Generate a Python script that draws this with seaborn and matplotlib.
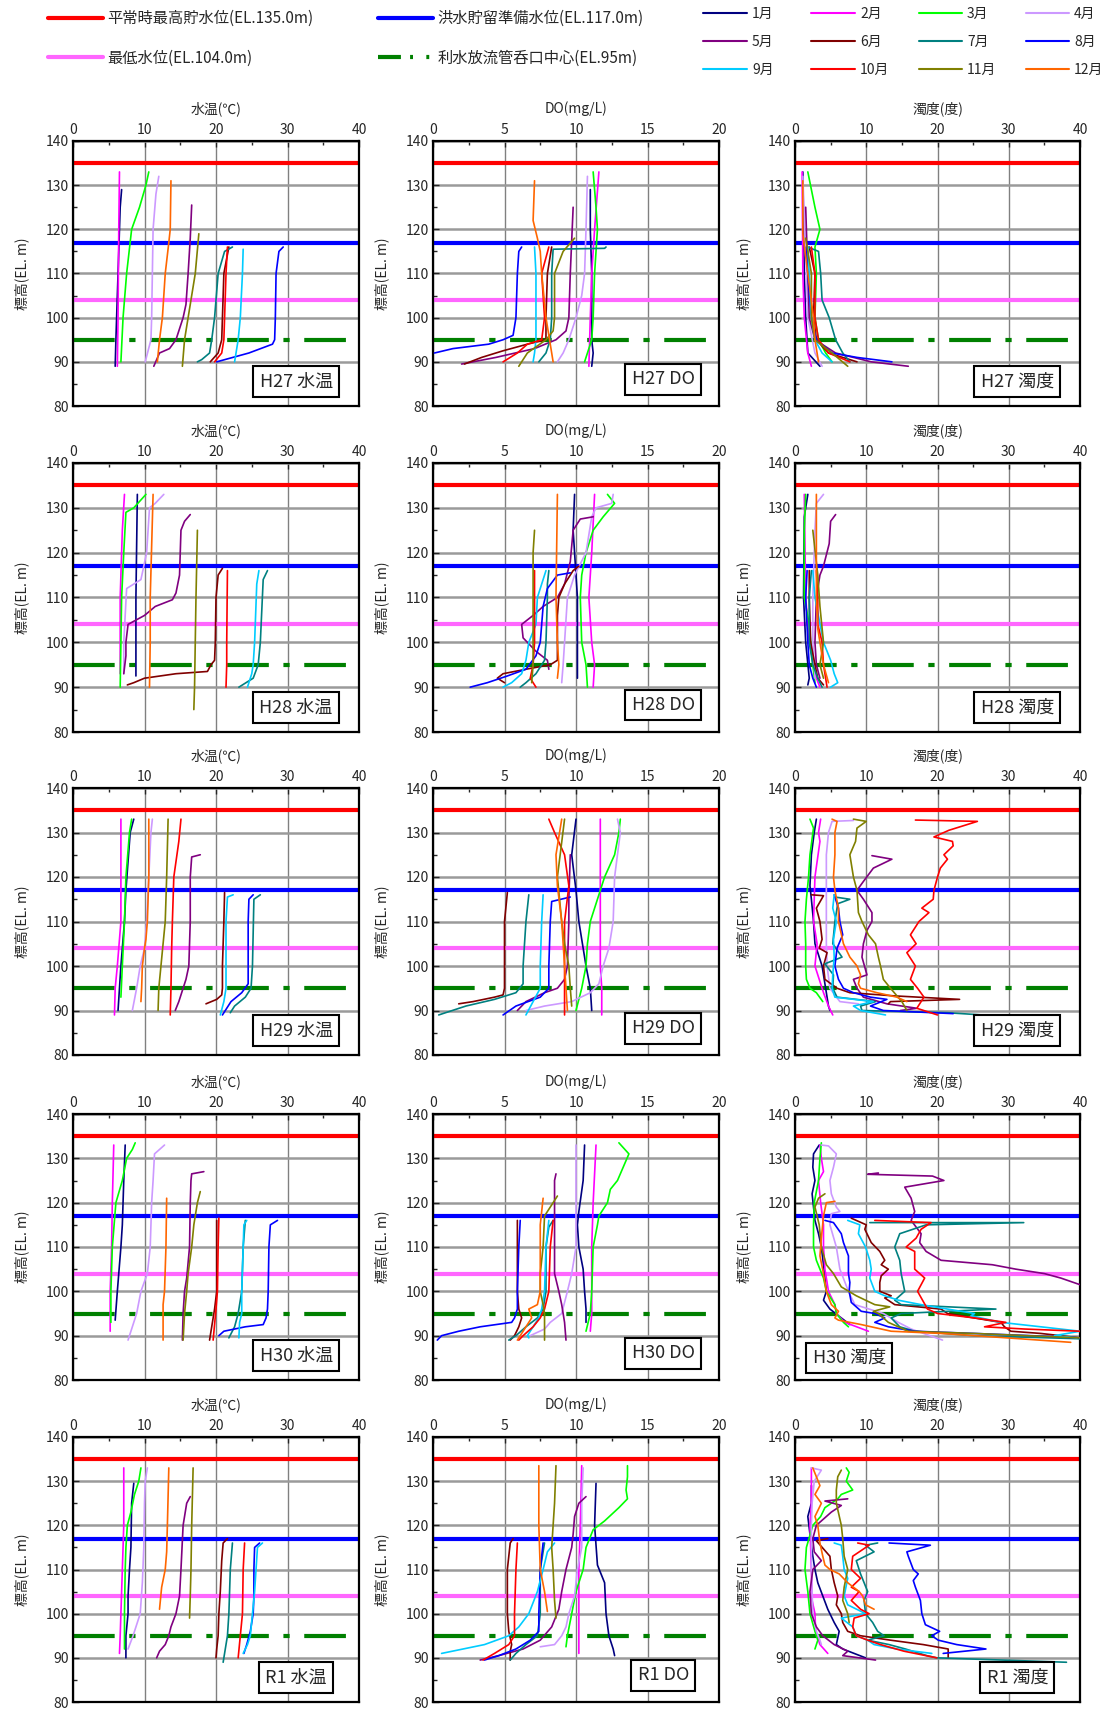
import matplotlib
matplotlib.use("Agg")
import matplotlib.pyplot as plt
import seaborn as sns
import pandas as pd
from matplotlib.lines import Line2D
from matplotlib.ticker import MultipleLocator

MONTHS = ["1月", "2月", "3月", "4月", "5月", "6月", "7月", "8月", "9月", "10月", "11月", "12月"]
MONTH_COLORS = ["#000080", "#FF00FF", "#00FF00", "#CC99FF", "#800080", "#800000",
                "#008080", "#0000FF", "#00CCFF", "#FF0000", "#808000", "#FF6600"]

REF_LEVELS = [135.0, 117.0, 104.0, 95.0]
REF_LABELS = ["平常時最高貯水位(EL.135.0m)", "洪水貯留準備水位(EL.117.0m)",
              "最低水位(EL.104.0m)", "利水放流管呑口中心(EL.95m)"]
REF_COLORS = ["#FF0000", "#0000FF", "#FF66FF", "#008000"]

YEARS = ["H27", "H28", "H29", "H30", "R1"]
VARIABLES = ["水温", "DO", "濁度"]
X_LABELS = ["水温(℃)", "DO(mg/L)", "濁度(度)"]
X_MAX = [40, 20, 40]
X_STEP = [10, 5, 10]

# each profile: (value, elevation EL.m), months 1..12
TEMP_H27 = [
    [(6.8, 129), (6.6, 125), (6.3, 110), (6.0, 95), (5.9, 89)],
    [(6.5, 133), (6.4, 120), (6.3, 100), (6.2, 89)],
    [(10.6, 133), (10.2, 130), (9.3, 125), (8.2, 120), (7.5, 110), (7.0, 100), (6.7, 90)],
    [(12.0, 132), (11.6, 128), (11.2, 120), (11.0, 100), (10.9, 95), (10.1, 90)],
    [(16.6, 125.5), (16.4, 118), (16.1, 110), (15.8, 103), (15.4, 100), (14.4, 95), (13.5, 93), (12.1, 92), (11.3, 89)],
    [(21.8, 116), (21.1, 110), (20.9, 100), (20.8, 95), (20.3, 92), (19.2, 90)],
    [(22.3, 116), (21.2, 115), (20.3, 110), (19.8, 100), (19.4, 95), (19.1, 92), (18.0, 90.5), (17.4, 90)],
    [(29.4, 116), (28.8, 115), (28.4, 110), (28.3, 100), (28.2, 95), (27.9, 94), (24.6, 92), (20.1, 90)],
    [(23.8, 115.5), (23.7, 110), (23.4, 100), (23.1, 95), (22.6, 90)],
    [(21.6, 116), (21.4, 110), (21.2, 100), (21.1, 95), (20.8, 92), (19.8, 90)],
    [(17.6, 119), (17.1, 110), (16.1, 100), (15.6, 95), (15.3, 89)],
    [(13.7, 131), (13.6, 120), (13.4, 117), (12.9, 110), (12.5, 100), (12.1, 95), (11.8, 90)],
]
DO_H27 = [
    [(11.0, 129), (11.0, 120), (11.1, 110), (11.1, 100), (11.1, 95), (11.2, 92), (11.1, 89)],
    [(11.6, 133), (11.3, 120), (11.1, 110), (11.0, 100), (10.9, 89)],
    [(11.2, 133), (11.4, 125), (11.5, 120), (11.3, 110), (11.2, 100), (11.1, 95), (10.6, 90)],
    [(10.8, 132), (10.7, 120), (10.6, 110), (10.4, 105), (10.0, 100), (9.5, 95), (9.1, 92), (8.7, 90)],
    [(9.8, 125), (9.6, 110), (9.5, 100), (9.3, 97), (8.6, 95), (7.1, 93), (4.4, 91), (2.0, 89.5)],
    [(8.3, 116), (8.0, 110), (7.9, 100), (7.9, 95), (6.6, 94), (4.9, 92.5), (3.4, 91), (2.2, 89.5)],
    [(12.1, 116), (12.0, 115.7), (8.4, 115.5), (8.3, 110), (8.3, 100), (8.2, 95), (7.9, 92), (7.4, 90)],
    [(6.2, 116), (6.0, 115), (5.9, 110), (5.8, 100), (5.6, 96), (4.9, 95), (3.9, 94), (1.4, 93), (0.1, 92)],
    [(7.1, 116), (7.2, 110), (7.2, 100), (7.2, 95), (7.1, 92), (7.0, 90)],
    [(8.1, 116), (7.6, 110), (7.8, 100), (7.6, 95), (6.6, 94), (5.9, 92), (4.9, 90)],
    [(9.9, 118), (9.1, 115), (8.5, 110), (8.5, 100), (8.4, 97), (7.9, 95), (6.6, 92), (6.0, 89)],
    [(7.1, 131), (7.0, 122), (7.3, 118), (7.5, 115), (7.6, 110), (7.9, 100), (8.1, 96), (8.4, 90)],
]
TURB_H27 = [
    [(1.1, 133), (1.3, 110), (1.5, 100), (1.8, 92), (3.5, 89)],
    [(1.0, 133), (1.1, 110), (1.3, 100), (1.8, 92), (2.3, 89)],
    [(1.8, 133), (2.8, 125), (3.5, 120), (2.8, 116), (3.0, 110), (2.8, 100), (3.3, 95), (4.3, 92), (5.2, 90)],
    [(1.1, 132), (1.6, 110), (1.8, 100), (2.8, 92), (3.8, 89)],
    [(1.5, 125), (1.8, 110), (2.0, 100), (2.8, 95), (5.7, 92), (10.7, 90), (15.9, 89)],
    [(2.0, 116), (2.8, 110), (2.6, 100), (3.0, 95), (4.7, 92), (8.7, 90)],
    [(1.8, 116), (3.3, 115), (3.6, 110), (3.8, 104), (4.8, 100), (5.7, 95), (6.7, 92), (7.7, 90)],
    [(1.6, 116), (1.8, 110), (2.3, 100), (3.0, 95), (5.2, 92), (8.7, 91), (13.6, 90)],
    [(1.8, 116), (2.0, 110), (2.3, 100), (2.8, 95), (3.8, 92), (5.2, 90)],
    [(2.3, 116), (2.8, 110), (2.8, 100), (3.3, 95), (4.7, 92), (7.7, 90)],
    [(1.5, 118), (2.3, 110), (2.3, 100), (2.8, 95), (5.2, 92), (7.4, 89)],
    [(1.1, 131), (1.1, 119), (1.8, 110), (2.6, 100), (2.8, 95), (3.3, 90)],
]

TEMP_H28 = [
    [(9.0, 133), (8.8, 110), (8.8, 100), (8.8, 92.5)],
    [(7.2, 133), (6.9, 125), (6.6, 110), (6.6, 93)],
    [(10.2, 133), (8.5, 130), (7.4, 129), (7.1, 120), (6.8, 110), (6.7, 100), (6.6, 90)],
    [(12.7, 133), (11.5, 131), (10.7, 130), (10.3, 120), (9.5, 114), (7.5, 112), (7.3, 106), (7.1, 100), (7.1, 93)],
    [(16.4, 128.5), (15.6, 127), (15.1, 125), (14.9, 115), (14.4, 111), (13.9, 109.5), (11.5, 108), (10.0, 106),
     (7.7, 104), (7.4, 100), (7.4, 97), (7.1, 93)],
    [(20.9, 116.5), (20.3, 115), (20.0, 110), (19.9, 100), (19.8, 96), (19.3, 95), (18.8, 93.5), (14.4, 93),
     (10.0, 92), (8.5, 91), (7.6, 90.5)],
    [(27.2, 116), (26.6, 114), (26.2, 100), (25.9, 95), (25.2, 92), (23.2, 90)],
    [],
    [(26.0, 116), (25.7, 113), (25.4, 100), (25.2, 95), (25.0, 93), (24.4, 90)],
    [(21.6, 116), (21.5, 100), (21.5, 95), (21.4, 90)],
    [(17.4, 125), (17.2, 110), (17.1, 100), (17.0, 90), (16.9, 85)],
    [(11.2, 133), (10.8, 110), (10.8, 100), (10.7, 90)],
]
DO_H28 = [
    [(9.9, 133), (9.8, 125), (10.0, 115), (10.1, 110), (10.1, 100), (10.1, 92)],
    [(11.3, 133), (11.1, 120), (10.9, 110), (11.1, 100), (11.3, 95), (11.2, 90)],
    [(12.2, 133), (12.7, 131), (11.9, 128), (11.2, 125), (10.7, 120), (10.4, 115), (10.3, 110), (10.4, 100),
     (10.7, 95), (10.8, 90)],
    [(12.6, 133), (12.5, 131), (11.4, 130), (11.1, 128), (10.7, 120), (9.9, 115), (9.4, 110), (9.2, 100),
     (9.1, 95), (9.0, 91)],
    [(11.2, 128), (10.3, 127.5), (9.8, 125), (9.6, 118), (9.2, 113), (8.7, 110), (7.7, 108), (7.0, 106),
     (6.2, 104), (6.3, 101), (7.2, 98), (8.0, 96), (8.1, 94)],
    [(10.2, 117), (9.8, 116), (9.2, 113), (8.8, 110), (8.7, 106), (8.7, 100), (8.7, 96), (8.2, 95), (6.5, 94),
     (4.9, 93), (4.5, 92), (5.0, 91)],
    [(8.1, 116), (8.0, 113), (8.0, 110), (7.9, 100), (7.8, 96), (7.2, 93), (6.5, 91), (6.1, 90)],
    [(9.6, 115.5), (8.7, 115), (8.0, 112), (7.7, 108), (7.6, 104), (7.5, 100), (7.2, 97), (6.5, 94),
     (5.2, 92.5), (3.8, 91), (2.6, 90)],
    [(7.9, 116), (7.7, 114), (7.3, 110), (7.2, 104), (6.7, 100), (6.5, 96), (6.2, 93), (5.5, 91), (4.9, 90)],
    [(7.1, 116), (7.1, 110), (7.1, 100), (7.0, 95), (6.8, 92), (7.2, 90)],
    [(7.1, 125), (7.0, 120), (7.0, 110), (7.0, 100), (7.0, 95), (6.9, 91)],
    [(8.7, 133), (8.6, 110), (8.7, 100), (8.8, 95), (8.7, 92)],
]
TURB_H28 = [
    [(1.8, 133), (1.3, 128), (1.2, 110), (1.5, 100), (2.0, 92), (1.8, 90.5)],
    [(1.3, 133), (1.5, 110), (2.0, 100), (3.0, 92), (3.5, 90)],
    [(1.5, 133), (1.3, 125), (1.3, 110), (2.0, 104), (2.2, 100), (2.5, 95), (2.8, 91)],
    [(4.0, 133), (3.0, 131), (2.8, 125), (2.5, 110), (2.5, 100), (2.8, 92)],
    [(5.7, 128.5), (5.0, 127), (4.8, 122), (4.0, 117), (3.5, 115), (3.0, 110), (2.8, 100), (3.0, 95), (3.5, 92)],
    [(2.0, 116), (2.0, 110), (2.2, 100), (2.8, 95), (3.2, 92), (4.0, 90.5)],
    [(2.3, 116), (2.0, 110), (2.0, 100), (2.5, 95), (3.2, 92), (3.8, 90)],
    [(1.7, 116), (1.5, 110), (1.8, 100), (2.0, 95), (2.5, 92), (3.0, 90)],
    [(2.5, 116), (2.8, 110), (4.0, 100), (5.0, 96), (5.5, 93), (6.0, 91), (5.0, 90)],
    [(3.0, 116), (3.2, 110), (3.2, 104), (3.8, 100), (4.0, 95), (4.3, 92), (4.5, 90)],
    [(2.5, 125), (3.2, 115), (3.5, 108), (4.0, 100), (3.5, 95), (4.0, 92)],
    [(3.0, 133), (3.0, 120), (3.0, 110), (3.2, 103), (3.5, 100), (4.0, 95), (4.7, 91)],
]

TEMP_H29 = [
    [(8.5, 133), (8.0, 130), (7.4, 117), (7.2, 110), (6.7, 100), (6.5, 95), (6.3, 90)],
    [(6.7, 133), (6.7, 110), (6.2, 100), (5.9, 95), (5.8, 89)],
    [(8.2, 133), (7.9, 130), (7.4, 120), (7.2, 110), (6.9, 100), (6.7, 93)],
    [(11.1, 133), (10.9, 130), (10.6, 120), (10.3, 110), (10.0, 104), (9.4, 100), (8.9, 95), (8.3, 90)],
    [(17.8, 125), (16.6, 124.5), (16.4, 120), (16.4, 110), (16.2, 100), (15.8, 97), (15.4, 95), (14.8, 92), (14.3, 90)],
    [(21.2, 116.5), (21.1, 110), (20.9, 100), (20.9, 95), (20.8, 93.5), (20.1, 92.5), (18.6, 91.5)],
    [(26.2, 116), (25.3, 115), (25.1, 100), (24.9, 95), (24.1, 93), (22.6, 91), (22.0, 89.5)],
    [(25.2, 116), (24.6, 115), (24.5, 110), (24.5, 100), (24.5, 96), (23.6, 94), (22.1, 92), (20.9, 89)],
    [(22.4, 116), (21.6, 115.5), (21.4, 110), (21.4, 100), (21.4, 95), (21.1, 92), (20.6, 89)],
    [(15.1, 133), (14.8, 128), (14.1, 120), (13.9, 110), (13.8, 104), (13.7, 95), (13.6, 89)],
    [(13.3, 133), (13.1, 120), (12.9, 110), (12.6, 105), (12.3, 100), (12.0, 95), (11.9, 90)],
    [(10.6, 133), (10.6, 120), (10.4, 110), (10.2, 106), (10.0, 104), (9.7, 100), (9.6, 95), (9.5, 92)],
]
DO_H29 = [
    [(10.0, 133), (9.7, 125), (10.0, 117), (10.2, 110), (10.5, 104), (10.7, 100), (11.0, 95), (11.1, 90)],
    [(11.7, 133), (11.7, 110), (11.7, 100), (11.8, 95), (11.8, 89)],
    [(13.1, 133), (13.0, 130), (12.7, 125), (12.0, 120), (11.5, 115), (11.0, 110), (10.8, 105), (10.7, 100),
     (10.4, 95), (10.0, 90)],
    [(12.9, 133), (13.1, 130), (12.7, 120), (12.6, 110), (12.3, 104), (11.9, 100), (11.6, 96), (11.0, 94),
     (9.7, 92), (7.8, 91), (6.5, 90)],
    [(9.6, 125), (9.5, 115), (9.5, 110), (9.4, 100), (9.2, 97), (8.7, 95), (7.8, 94), (6.5, 92), (5.9, 90)],
    [(5.2, 116.5), (5.0, 110), (5.0, 100), (5.0, 95), (4.9, 93.5), (4.3, 93), (2.8, 92), (1.8, 91.5)],
    [(6.7, 116), (6.5, 110), (6.3, 100), (6.3, 96), (5.8, 94), (4.3, 92.5), (2.3, 91), (0.4, 89)],
    [(9.6, 115.5), (8.3, 114.5), (8.2, 110), (8.1, 100), (8.1, 95), (7.5, 93), (5.8, 91), (4.9, 89)],
    [(7.7, 116), (7.6, 110), (7.5, 100), (7.5, 95), (7.0, 92), (6.5, 89)],
    [(8.1, 133), (8.5, 130), (9.2, 125), (9.5, 118), (9.2, 110), (9.2, 100), (9.2, 95), (9.2, 89)],
    [(9.2, 133), (8.7, 120), (9.0, 110), (9.2, 105), (9.5, 100), (9.6, 95), (9.7, 91)],
    [(9.0, 133), (8.6, 125), (8.7, 118), (9.0, 110), (9.2, 100), (9.3, 95), (9.4, 90)],
]
TURB_H29 = [
    [(3.0, 133), (2.7, 130), (2.3, 125), (2.1, 118), (2.3, 115), (2.6, 110), (2.8, 105), (3.8, 100), (4.2, 96),
     (4.5, 93), (4.7, 91), (4.9, 90)],
    [(3.6, 133), (3.3, 130), (3.5, 128), (2.8, 120), (2.6, 110), (3.1, 105), (2.8, 100), (3.4, 97), (4.0, 94),
     (4.7, 91), (5.3, 89)],
    [(2.1, 133), (2.6, 131), (2.1, 125), (1.9, 120), (1.6, 115), (1.4, 110), (1.5, 105), (1.5, 100), (1.6, 97),
     (2.1, 95), (3.0, 94), (3.9, 92)],
    [(8.2, 132.7), (5.2, 132.5), (4.7, 130), (4.4, 125), (4.4, 115), (4.4, 105), (4.5, 100), (4.9, 95), (6.3, 92),
     (8.9, 91.5)],
    [(10.8, 124.8), (13.6, 124), (11.0, 122), (9.6, 119), (8.7, 117), (9.6, 115), (10.8, 112), (10.8, 110),
     (10.1, 108), (9.6, 105), (9.4, 102), (10.1, 98), (8.2, 97), (8.7, 95), (9.6, 93), (12.9, 91.5), (17.1, 90.5),
     (14.8, 90)],
    [(2.3, 116), (4.0, 115.8), (3.0, 113), (3.5, 110), (3.8, 106), (3.4, 104), (4.5, 103), (4.0, 100), (4.2, 97),
     (5.9, 95), (7.7, 94), (13.8, 93.3), (23.1, 92.5), (13.4, 92), (13.1, 91.5)],
    [(5.6, 115.5), (7.7, 115), (6.0, 114), (5.6, 110), (5.3, 105), (6.6, 102), (4.2, 100.5), (5.4, 98), (5.3, 95),
     (5.9, 93), (11.3, 92), (9.2, 91), (9.4, 90), (21.4, 89.5), (26.3, 89)],
    [(5.5, 116), (6.1, 113), (6.3, 110), (6.7, 107), (5.9, 104), (5.6, 100), (6.1, 97), (6.8, 95), (8.2, 94),
     (10.6, 93), (12.9, 92.5), (10.6, 91), (12.4, 90), (22.2, 89.3)],
    [(5.5, 116), (5.3, 113), (5.8, 110), (5.4, 106), (5.5, 102), (5.3, 98), (5.2, 95), (5.6, 93), (11.0, 92),
     (8.2, 91), (9.2, 90), (12.7, 89)],
    [(16.9, 132.8), (25.6, 132.5), (21.6, 130.5), (19.5, 129), (22.1, 128), (22.2, 127), (20.9, 125), (21.4, 124),
     (20.4, 122), (20.0, 120), (19.5, 117), (19.4, 115), (17.8, 113), (18.8, 112), (17.4, 110), (16.2, 107),
     (17.0, 105), (15.7, 103), (16.9, 100), (16.2, 97), (17.2, 95), (18.1, 93), (17.1, 90.5), (20.0, 89)],
    [(8.2, 133), (10.0, 132.5), (8.7, 131), (8.5, 128), (7.7, 125), (8.2, 120), (8.7, 117), (8.9, 112), (9.4, 110),
     (10.3, 107), (11.3, 105), (11.7, 102), (12.0, 100), (12.4, 97), (13.4, 95), (15.0, 92), (15.7, 90)],
    [(5.2, 133), (5.9, 132.5), (5.6, 130), (5.6, 125), (5.4, 120), (5.6, 117), (6.1, 113), (6.1, 110), (6.8, 105),
     (7.7, 102), (8.7, 100), (9.2, 98), (8.9, 96), (9.2, 95), (11.5, 94), (14.3, 93), (15.7, 92)],
]

TEMP_H30 = [
    [(7.3, 133), (7.1, 125), (6.9, 115), (6.7, 110), (6.2, 100), (5.9, 93.5)],
    [(5.7, 133), (5.5, 120), (5.4, 110), (5.2, 100), (5.2, 91)],
    [(8.7, 133.5), (8.3, 132), (7.5, 130), (6.9, 125), (6.0, 120), (5.5, 110), (5.3, 100), (5.3, 93)],
    [(12.8, 133), (11.4, 131), (11.2, 125), (11.0, 120), (10.8, 110), (10.4, 104), (9.5, 100), (8.9, 95), (7.7, 89)],
    [(18.3, 127), (16.6, 126.5), (16.5, 125), (16.4, 120), (16.3, 110), (15.9, 103), (15.6, 100), (15.4, 95), (15.3, 89)],
    [(20.1, 116), (20.1, 100), (19.8, 96), (19.1, 89)],
    [(24.1, 116), (23.8, 110), (23.6, 100), (23.1, 95), (22.6, 92), (21.8, 89.5)],
    [(28.6, 116), (27.6, 115), (27.4, 110), (27.3, 100), (27.2, 96), (27.0, 94), (26.6, 92.5), (24.1, 92),
     (21.1, 91), (20.4, 90)],
    [(24.3, 116), (23.9, 115), (23.8, 110), (23.6, 100), (23.6, 95), (23.3, 93), (23.2, 89.5)],
    [(20.4, 116.5), (20.3, 110), (20.2, 100), (20.0, 96), (19.6, 89)],
    [(17.8, 122.5), (17.4, 120), (16.9, 115), (16.6, 110), (16.1, 104), (15.9, 100), (15.6, 95), (15.4, 89)],
    [(13.1, 121), (13.0, 110), (12.8, 100), (12.6, 97), (12.6, 89)],
]
DO_H30 = [
    [(10.6, 133), (10.5, 125), (10.2, 118), (10.1, 115), (10.2, 110), (10.5, 105), (10.6, 100), (10.7, 96), (10.7, 93)],
    [(11.4, 133), (11.2, 120), (11.1, 110), (11.1, 100), (11.1, 95), (11.0, 91)],
    [(13.0, 133.5), (13.7, 131), (13.3, 128), (12.9, 125), (12.4, 123), (12.2, 120), (11.6, 117), (11.5, 115),
     (11.2, 110), (11.1, 100), (11.0, 95), (10.7, 91)],
    [(10.0, 133), (10.0, 125), (10.0, 115), (10.0, 110), (9.7, 104), (9.4, 100), (9.0, 95), (8.2, 93), (7.8, 91.5), (6.8, 90)],
    [(8.6, 126.5), (8.5, 125), (8.5, 115), (8.5, 110), (8.5, 104), (8.8, 100), (9.0, 97), (9.2, 93), (9.3, 89)],
    [(5.9, 116), (5.9, 110), (5.9, 100), (6.0, 96), (6.2, 94), (6.0, 92), (5.7, 90), (5.4, 89)],
    [(8.4, 116), (8.1, 114.5), (7.9, 110), (7.9, 100), (7.7, 96), (7.3, 94), (6.5, 92), (5.8, 90), (5.3, 89)],
    [(6.1, 116), (6.0, 110), (5.9, 100), (5.9, 96), (5.7, 94), (5.5, 93), (3.3, 92), (1.8, 91), (0.6, 90), (0.3, 89)],
    [(8.1, 116), (7.9, 110), (7.8, 100), (7.6, 96), (7.4, 94), (7.0, 92), (6.6, 90), (6.7, 89.5)],
    [(8.4, 116), (8.2, 110), (8.1, 100), (7.8, 96), (7.5, 94), (7.0, 92), (6.3, 90), (6.0, 89)],
    [(8.7, 121.5), (8.2, 119), (7.8, 117), (7.7, 110), (7.5, 104), (7.5, 100), (7.7, 97), (7.8, 95), (7.8, 92), (7.8, 89)],
    [(7.7, 121), (7.5, 115), (7.5, 110), (7.5, 104), (7.5, 100), (7.3, 97), (6.7, 96), (6.9, 94), (6.5, 92), (5.9, 89)],
]
TURB_H30 = [
    [(3.4, 133), (2.6, 131), (2.5, 128), (2.8, 125), (2.4, 122), (2.6, 119), (2.8, 116), (3.3, 113), (3.7, 110),
     (4.0, 106), (4.2, 103), (4.4, 100), (4.0, 98), (4.9, 96), (6.5, 94), (7.7, 92.5)],
    [(3.5, 133), (3.7, 130), (4.0, 127), (3.3, 125), (3.6, 120), (4.0, 115), (4.0, 110), (4.2, 105), (4.7, 100),
     (5.6, 97), (5.8, 95), (7.0, 93), (10.3, 91)],
    [(3.7, 133.5), (3.5, 130), (3.3, 125), (2.7, 120), (2.6, 115), (2.6, 110), (3.0, 107), (4.0, 103), (4.4, 100),
     (5.6, 97), (5.8, 95), (6.8, 93), (7.5, 92)],
    [(3.7, 133), (4.7, 132.8), (5.8, 131), (5.4, 128), (4.9, 125), (5.1, 122), (5.8, 119), (6.3, 118), (5.1, 117.5),
     (4.9, 115), (5.8, 110), (6.3, 105), (7.5, 100), (8.4, 97), (12.4, 95), (14.5, 93), (16.3, 91.5), (20.7, 89)],
    [(11.7, 126.7), (10.2, 126.4), (19.3, 126), (20.9, 125), (15.4, 123.5), (16.3, 121), (16.8, 118), (16.3, 116),
     (17.7, 113), (17.5, 111), (18.4, 109), (20.5, 107), (27.7, 106), (31.0, 105), (35.0, 104), (37.3, 103),
     (40.0, 101.5)],
    [(7.9, 116.5), (10.0, 115), (9.8, 114), (10.7, 111), (11.9, 109), (12.6, 107), (12.1, 106), (13.1, 105),
     (12.1, 103.5), (11.9, 102), (11.9, 100), (13.5, 99), (12.6, 98.5), (14.0, 97), (20.5, 96), (21.4, 95),
     (28.9, 93), (29.4, 92), (30.3, 91), (34.5, 90.5), (40.0, 89.5)],
    [(10.5, 115.5), (32.1, 115.5), (18.4, 115), (14.7, 113), (14.0, 110), (14.7, 107), (14.9, 104), (15.4, 100),
     (14.0, 98), (14.9, 97), (28.2, 96), (14.9, 95), (13.5, 94), (14.7, 92), (16.8, 91), (25.2, 90), (40.0, 89.3)],
    [(4.2, 116), (5.4, 115.5), (6.5, 113), (6.8, 111), (7.5, 108), (7.5, 104), (7.7, 102), (7.6, 100), (7.9, 97.5),
     (9.3, 95.5), (11.2, 95), (12.6, 94), (11.2, 93), (13.1, 92), (16.8, 91), (25.2, 90.5), (33.1, 90), (40.0, 89.5)],
    [(7.4, 116), (9.1, 115), (8.9, 113), (9.9, 110), (10.5, 107), (10.7, 105), (10.5, 103), (11.2, 100), (12.6, 99),
     (14.5, 98), (17.7, 97), (21.4, 96), (25.2, 95), (24.7, 94.5), (28.9, 93), (34.5, 92), (40.0, 91), (36.4, 90),
     (39.6, 89.5)],
    [(11.2, 116), (19.1, 115.5), (17.7, 114), (17.0, 112), (15.6, 110), (16.8, 109), (16.8, 105), (18.2, 103),
     (17.2, 100), (17.9, 98), (18.6, 96), (20.0, 95), (25.2, 94), (29.6, 93), (26.6, 92), (32.2, 91.5), (40.0, 91)],
    [(4.2, 122), (3.3, 121), (2.8, 119), (3.4, 115), (3.7, 110), (4.4, 106), (5.4, 104), (6.5, 101), (8.6, 99),
     (11.2, 97), (13.3, 96.5), (11.0, 95.5), (11.7, 95), (13.1, 93), (15.9, 91), (25.2, 90.5), (39.9, 89.5)],
    [(5.6, 120.3), (4.4, 120), (4.0, 117), (3.7, 112), (3.5, 108), (4.0, 104), (4.4, 100), (5.1, 97), (6.1, 95.5),
     (5.6, 94), (6.1, 93.5), (9.3, 92.5), (13.5, 91), (20.5, 90.5), (29.8, 89.5), (38.7, 88.5)],
]

TEMP_R1 = [
    [(8.5, 129.5), (8.4, 128), (8.2, 125), (8.1, 115), (7.9, 110), (7.7, 104), (7.7, 100), (7.4, 95), (7.4, 90)],
    [(7.1, 133), (7.1, 120), (6.9, 110), (6.7, 100), (6.6, 95), (6.5, 91)],
    [(9.5, 133), (9.2, 130), (8.6, 127), (8.1, 123), (7.6, 120), (7.4, 115), (7.3, 110), (7.2, 100), (7.2, 92)],
    [(10.4, 133), (10.1, 130), (10.0, 125), (9.9, 115), (9.7, 107), (9.4, 100), (8.4, 95), (7.7, 92)],
    [(16.4, 126.5), (15.9, 125), (15.4, 120), (15.1, 110), (14.9, 104), (14.4, 100), (13.7, 97), (13.4, 95),
     (12.9, 93), (12.1, 91.5), (11.7, 90)],
    [(21.6, 117), (21.0, 116), (20.8, 112), (20.6, 105), (20.4, 100), (20.3, 95), (20.1, 92), (20.0, 90)],
    [(22.3, 116), (22.0, 110), (21.8, 100), (21.6, 95), (21.3, 92), (21.0, 89)],
    [(26.1, 116), (25.4, 115), (25.3, 110), (25.3, 104), (25.2, 100), (24.8, 96), (24.3, 93), (23.9, 91)],
    [(26.5, 116), (25.8, 115), (25.6, 110), (25.4, 105), (25.1, 100), (24.8, 95), (24.4, 93), (23.8, 91)],
    [(24.0, 116), (23.8, 110), (23.7, 100), (23.4, 95), (23.1, 90)],
    [(16.8, 133), (16.6, 120), (16.5, 110), (16.4, 104), (16.3, 99)],
    [(13.4, 133), (13.2, 120), (13.1, 114), (12.9, 110), (12.4, 106), (12.1, 101)],
]
DO_R1 = [
    [(11.4, 129.5), (11.3, 120), (11.5, 111), (12.0, 107), (12.1, 100), (12.3, 95), (12.6, 92), (12.7, 90.5)],
    [(10.4, 133.5), (10.3, 120), (10.2, 110), (10.2, 100), (10.2, 95), (10.2, 91)],
    [(13.6, 133.5), (13.6, 131), (13.5, 128), (13.6, 126), (13.0, 124), (12.0, 121), (11.2, 119), (10.7, 115),
     (10.5, 110), (10.0, 105), (9.7, 100), (9.4, 95), (9.3, 92.5)],
    [(10.5, 133), (10.4, 125), (10.4, 115), (10.1, 110), (9.9, 104), (9.5, 100), (9.3, 97), (9.0, 95), (8.5, 93), (7.5, 92.5)],
    [(10.7, 126.5), (10.2, 125), (9.9, 122), (9.8, 118), (9.7, 115), (9.3, 110), (9.0, 105), (8.8, 101), (8.3, 97),
     (7.5, 94), (6.3, 92), (4.6, 90.5), (3.3, 89.5)],
    [(5.6, 117), (5.4, 116), (5.2, 110), (5.2, 100), (5.3, 96), (5.5, 93), (5.4, 91.5), (5.4, 89.5)],
    [(7.8, 116), (7.5, 110), (7.5, 100), (7.3, 95), (6.5, 93), (5.8, 91), (5.4, 89.5)],
    [(7.7, 116), (7.5, 110), (7.4, 100), (7.4, 96), (6.8, 94), (5.8, 92), (4.6, 90.5), (3.6, 89.5)],
    [(8.5, 116), (8.0, 114), (7.7, 110), (7.3, 105), (6.7, 100), (6.0, 97), (5.3, 95), (3.6, 93), (0.6, 91)],
    [(5.9, 116), (5.8, 110), (5.7, 100), (5.7, 95), (5.3, 93), (4.3, 91), (3.5, 89.5)],
    [(8.6, 133.5), (8.5, 125), (8.4, 120), (8.3, 115), (8.4, 110), (8.5, 103), (8.6, 99)],
    [(7.4, 133.5), (7.4, 120), (7.5, 110), (7.8, 105), (8.0, 100.5)],
]
TURB_R1 = [
    [(2.3, 129), (2.3, 125), (1.8, 122), (2.1, 118), (2.5, 113), (2.8, 110), (3.2, 107), (3.9, 104), (4.6, 101),
     (5.5, 98), (6.2, 96), (5.8, 93), (6.7, 92), (8.3, 91), (9.9, 90)],
    [(2.3, 133), (2.3, 130), (2.3, 125), (2.1, 120), (2.3, 110), (2.4, 103), (2.8, 100), (2.9, 96), (3.5, 93), (4.6, 91)],
    [(7.2, 133), (7.6, 132), (7.2, 130), (8.1, 128), (6.5, 127), (6.0, 126), (5.1, 125), (4.2, 124), (3.6, 122),
     (2.5, 120), (1.6, 115), (1.4, 110), (1.8, 105), (2.1, 100), (2.8, 96), (3.2, 94), (2.8, 92)],
    [(2.3, 133), (3.7, 132.5), (2.7, 130), (2.4, 125), (2.3, 120), (2.3, 110), (2.5, 100), (3.0, 96), (3.5, 94), (3.7, 93)],
    [(7.4, 126), (4.2, 125.5), (6.5, 124.5), (5.1, 123), (4.4, 122), (3.0, 120), (2.5, 117), (2.7, 114), (3.7, 112),
     (2.5, 110), (2.1, 105), (2.3, 100), (3.0, 97), (3.9, 95), (5.5, 93), (7.4, 91.5), (6.7, 90.5), (11.3, 89.5)],
    [(4.6, 117), (3.0, 116.5), (4.9, 113), (5.1, 110), (5.5, 107), (6.0, 104), (5.8, 102), (6.5, 100), (6.7, 98),
     (7.4, 96), (9.2, 95), (13.4, 94), (18.0, 93), (21.5, 92), (21.5, 90)],
    [(11.6, 116), (9.9, 115.5), (11.1, 114), (8.6, 112), (9.2, 109), (10.2, 105), (9.7, 103), (9.9, 100), (10.9, 98),
     (11.6, 96), (12.5, 95), (10.2, 94), (13.2, 93), (15.5, 92), (18.5, 90.5), (19.9, 90), (38.1, 89)],
    [(13.2, 116), (19.0, 115.5), (15.7, 114), (15.9, 113), (16.6, 110), (17.3, 109), (16.6, 107.5), (16.9, 106),
     (17.6, 103), (17.8, 100), (18.3, 97.5), (20.3, 96), (19.2, 95), (20.1, 94), (22.7, 93), (26.8, 92), (20.8, 91)],
    [(5.5, 116), (6.5, 115.5), (6.7, 113), (6.9, 110), (7.4, 108), (6.9, 104), (7.4, 102), (9.9, 100), (6.5, 99),
     (8.1, 97), (8.6, 95), (10.2, 94), (11.1, 93), (14.3, 92), (19.2, 91)],
    [(8.8, 116), (10.4, 115.5), (8.1, 113), (7.9, 110), (9.2, 108), (7.9, 106), (9.0, 105), (7.9, 103), (9.2, 101),
     (10.4, 100), (8.3, 99), (8.1, 97), (8.6, 95), (10.2, 94), (12.0, 93), (15.3, 91.5), (19.9, 90)],
    [(6.5, 132.5), (6.0, 131), (5.8, 128), (5.8, 125), (6.5, 120), (6.7, 117), (6.9, 113), (7.4, 110), (6.9, 106),
     (6.7, 103), (7.4, 100), (7.6, 98)],
    [(2.5, 133), (3.0, 131), (3.5, 129), (2.8, 127), (3.7, 125), (2.8, 122), (3.2, 120), (3.5, 116), (3.9, 113),
     (4.2, 111), (4.9, 110), (6.2, 109), (7.4, 107), (9.0, 105), (9.5, 104), (9.9, 102), (11.1, 101)],
]

PANELS = [
    [TEMP_H27, DO_H27, TURB_H27],
    [TEMP_H28, DO_H28, TURB_H28],
    [TEMP_H29, DO_H29, TURB_H29],
    [TEMP_H30, DO_H30, TURB_H30],
    [TEMP_R1, DO_R1, TURB_R1],
]


def to_frame(profiles):
    rows = []
    for month, prof in zip(MONTHS, profiles):
        for value, elev in prof:
            rows.append({"month": month, "value": value, "elev": elev})
    return pd.DataFrame(rows)


sns.set_theme(style="white")
plt.rcParams["font.family"] = ["Noto Sans CJK JP", "DejaVu Sans"]

W, H = 1108, 1711
fig = plt.figure(figsize=(W / 100, H / 100), dpi=100)

# axes layout in pixels
COL_X = [(73, 359), (433, 719), (795, 1080)]
ROW_Y = [(141, 406), (463, 732), (788, 1055), (1114, 1380), (1437, 1702)]

palette = dict(zip(MONTHS, MONTH_COLORS))
ref_styles = ["-", "-", "-", (0, (10, 3.5, 1.5, 3.5))]

for r, year in enumerate(YEARS):
    for c in range(3):
        x0, x1 = COL_X[c]
        y0, y1 = ROW_Y[r]
        ax = fig.add_axes([x0 / W, 1 - y1 / H, (x1 - x0) / W, (y1 - y0) / H])

        for lvl, col, ls in zip(REF_LEVELS, REF_COLORS, ref_styles):
            ax.axhline(lvl, color=col, lw=3, ls=ls, zorder=2)

        df = to_frame(PANELS[r][c])
        sns.lineplot(data=df, x="value", y="elev", hue="month", hue_order=MONTHS,
                     palette=palette, sort=False, estimator=None, legend=False,
                     lw=1.2, ax=ax, zorder=3)

        ax.set_xlim(0, X_MAX[c])
        ax.set_ylim(80, 140)
        ax.xaxis.set_major_locator(MultipleLocator(X_STEP[c]))
        ax.xaxis.set_minor_locator(MultipleLocator(X_STEP[c] / 2))
        ax.yaxis.set_major_locator(MultipleLocator(10))
        ax.yaxis.set_minor_locator(MultipleLocator(5))
        ax.xaxis.tick_top()
        ax.xaxis.set_label_position("top")
        ax.tick_params(which="both", direction="in", top=True, left=True, bottom=False, right=False,
                       labelsize=10, pad=3)
        ax.tick_params(which="major", length=4, width=1)
        ax.tick_params(which="minor", length=3, width=1)
        ax.yaxis.grid(True, which="major", color="#9a9a9a", lw=1.8, zorder=1)
        ax.xaxis.grid(True, which="major", color="#808080", lw=1.0, zorder=1)
        ax.set_axisbelow(True)
        for sp in ax.spines.values():
            sp.set_color("black")
            sp.set_linewidth(1.6)

        ax.set_xlabel(X_LABELS[c], fontsize=10, labelpad=7)
        ax.set_ylabel("標高(EL. m)", fontsize=10, labelpad=12)

        bx, by = (X_MAX[c] * 0.78, 85.5)
        if c == 1:
            bx, by = (16.1, 86.0)
        if r == 3 and c == 2:
            bx, by = (7.6, 85.0)
        ax.text(bx, by, f"{year} {VARIABLES[c]}", ha="center", va="center", fontsize=13, zorder=5,
                bbox=dict(boxstyle="square,pad=0.35", fc="white", ec="black", lw=1.5))

# reference level legend: two columns, each its own legend
legend_styles = ["-", "-", "-", (0, (5.5, 2.2, 0.7, 3.2, 0.7, 3.2))]
ref_handles = [Line2D([], [], color=col, lw=3, ls=ls) for col, ls in zip(REF_COLORS, legend_styles)]
for col_idx, anchor_x in zip([(0, 2), (1, 3)], [0.0307, 0.3285]):
    fig.legend([ref_handles[i] for i in col_idx], [REF_LABELS[i] for i in col_idx],
               loc="upper left", bbox_to_anchor=(anchor_x, 1.002), frameon=False, fontsize=11,
               handlelength=3.6, handletextpad=0.3, labelspacing=1.45)

# month legend: four columns
month_handles = [Line2D([], [], color=col, lw=1.5) for col in MONTH_COLORS]
for i, anchor_x in enumerate([0.6236, 0.7211, 0.8177, 0.9143]):
    idx = [i, i + 4, i + 8]
    fig.legend([month_handles[k] for k in idx], [MONTHS[k] for k in idx],
               loc="upper left", bbox_to_anchor=(anchor_x, 1.0032), frameon=False, fontsize=10,
               handlelength=3.1, handletextpad=0.4, labelspacing=1.0)

fig.savefig("out.png", dpi=100)
